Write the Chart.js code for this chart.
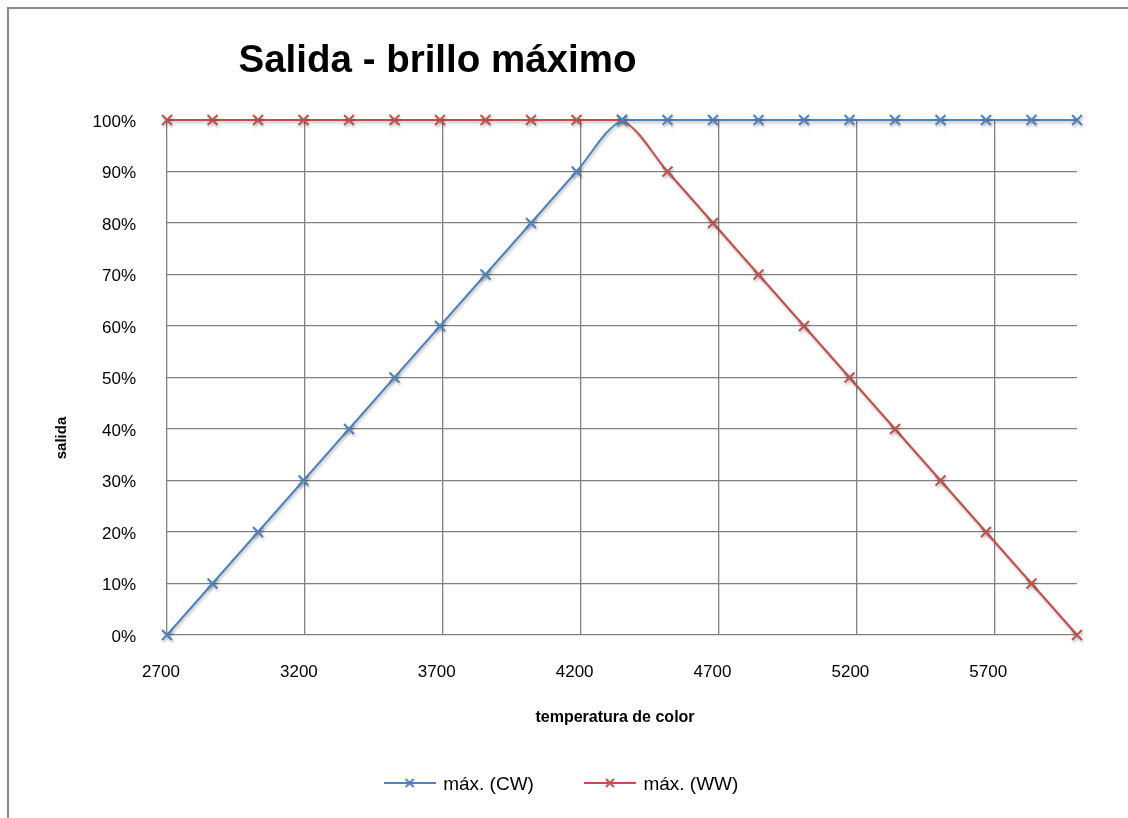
<!DOCTYPE html>
<html>
<head>
<meta charset="utf-8">
<script src="https://cdn.jsdelivr.net/npm/chart.js@4"></script>
<style>
  html, body { margin: 0; padding: 0; background: #fff; overflow: hidden; }
  #wrap { position: relative; width: 1128px; height: 818px; overflow: hidden; }
  #frame { position: absolute; left: 7px; top: 7px; width: 2000px; height: 2000px;
           border-left: 2px solid #8a8a8a; border-top: 2px solid #8a8a8a; }
  canvas { position: absolute; left: 0; top: 0; }
</style>
</head>
<body>
<div id="wrap">
  <div id="frame"></div>
  <canvas id="chart" width="1128" height="818"></canvas>
</div>
<script>
// Texts
const chartTitle = 'Salida - brillo máximo';
const xAxisTitle = 'temperatura de color';
const yAxisTitle = 'salida';
const seriesLabels = ['máx. (CW)', 'máx. (WW)'];

// Colour temperature (K) of each sample
const colorTemps = [2700, 2865, 3030, 3195, 3360, 3525, 3690, 3855, 4020, 4185, 4350,
                    4515, 4680, 4845, 5010, 5175, 5340, 5505, 5670, 5835, 6000];
// Output (%) of the cold white and warm white channels
const cwOutput = [0, 10, 20, 30, 40, 50, 60, 70, 80, 90, 100,
                  100, 100, 100, 100, 100, 100, 100, 100, 100, 100];
const wwOutput = [100, 100, 100, 100, 100, 100, 100, 100, 100, 100, 100,
                  90, 80, 70, 60, 50, 40, 30, 20, 10, 0];

// Axis ticks
const xTickValues = [2700, 3200, 3700, 4200, 4700, 5200, 5700];
const yTickValues = [0, 10, 20, 30, 40, 50, 60, 70, 80, 90, 100];

const FONT = "'Liberation Sans', Arial, Helvetica, sans-serif";
const BLUE = '#4F81BD';
const RED = '#C0504D';
const GRID = '#808080';

// Legend symbol: short line with an x marker in the middle
function legendSymbol(color) {
  const c = document.createElement('canvas');
  c.width = 52; c.height = 14;
  const g = c.getContext('2d');
  g.strokeStyle = color;
  g.lineWidth = 2;
  g.beginPath(); g.moveTo(0, 5); g.lineTo(52, 5); g.stroke();
  g.beginPath();
  g.moveTo(22, 1); g.lineTo(30, 9);
  g.moveTo(30, 1); g.lineTo(22, 9);
  g.stroke();
  return c;
}
const legendSymbols = [legendSymbol(BLUE), legendSymbol(RED)];

// Soft drop shadow under each series, like the office chart style
const seriesShadow = {
  id: 'seriesShadow',
  beforeDatasetDraw(chart) {
    const c = chart.ctx;
    c.save();
    c.shadowColor = 'rgba(0,0,0,0.28)';
    c.shadowBlur = 3;
    c.shadowOffsetX = 1;
    c.shadowOffsetY = 2;
  },
  afterDatasetDraw(chart) { chart.ctx.restore(); }
};

// Chart title and axis titles
const captions = {
  id: 'captions',
  afterDraw(chart) {
    const c = chart.ctx;
    c.save();
    c.fillStyle = '#000';
    c.textAlign = 'center';
    c.textBaseline = 'alphabetic';
    c.font = 'bold 38.5px ' + FONT;
    c.fillText(chartTitle, 437.5, 72);
    c.font = 'bold 16px ' + FONT;
    c.fillText(xAxisTitle, 615, 722);
    c.translate(62, 438);
    c.rotate(-Math.PI / 2);
    c.textBaseline = 'middle';
    c.font = 'bold 15px ' + FONT;
    c.fillText(yAxisTitle, 0, 0);
    c.restore();
  }
};

function series(label, values, color) {
  return {
    label,
    data: colorTemps.map((x, i) => ({ x, y: values[i] })),
    borderColor: color,
    backgroundColor: color,
    borderWidth: 2,
    pointStyle: 'crossRot',
    pointRadius: 7,
    pointHoverRadius: 7,
    pointBorderWidth: 2,
    pointBorderColor: color,
    tension: 0.35,
    clip: false
  };
}

new Chart(document.getElementById('chart'), {
  type: 'line',
  data: {
    datasets: [
      series(seriesLabels[0], cwOutput, BLUE),
      series(seriesLabels[1], wwOutput, RED)
    ]
  },
  options: {
    responsive: false,
    animation: false,
    layout: { padding: { left: 47, right: 51, top: 120, bottom: 13.5 } },
    scales: {
      x: {
        type: 'linear',
        min: 2700,
        max: 6000,
        afterBuildTicks: s => { s.ticks = xTickValues.map(v => ({ value: v })); },
        afterFit: s => { s.height = 88.5; },
        grid: { color: GRID, lineWidth: 1.3, drawTicks: false },
        border: { display: false },
        ticks: {
          font: { family: FONT, size: 17 },
          color: '#000',
          padding: 27,
          labelOffset: -6,
          maxRotation: 0,
          autoSkip: false,
          callback: v => String(v)
        }
      },
      y: {
        min: 0,
        max: 100,
        afterBuildTicks: s => { s.ticks = yTickValues.map(v => ({ value: v })); },
        afterFit: s => { s.width = 120; },
        grid: { color: GRID, lineWidth: 1.3, drawTicks: false },
        border: { display: false },
        ticks: {
          font: { family: FONT, size: 17 },
          color: '#000',
          padding: 31,
          labelOffset: 2,
          autoSkip: false,
          callback: v => v + '%'
        }
      }
    },
    plugins: {
      title: { display: false },
      tooltip: { enabled: false },
      legend: {
        position: 'bottom',
        labels: {
          usePointStyle: true,
          pointStyleWidth: 48,
          padding: 52,
          color: '#000',
          font: { family: FONT, size: 19 },
          generateLabels(chart) {
            const items = Chart.defaults.plugins.legend.labels.generateLabels(chart);
            items.forEach((it, i) => { it.pointStyle = legendSymbols[i]; });
            return items;
          }
        }
      }
    }
  },
  plugins: [seriesShadow, captions]
});
</script>
</body>
</html>
